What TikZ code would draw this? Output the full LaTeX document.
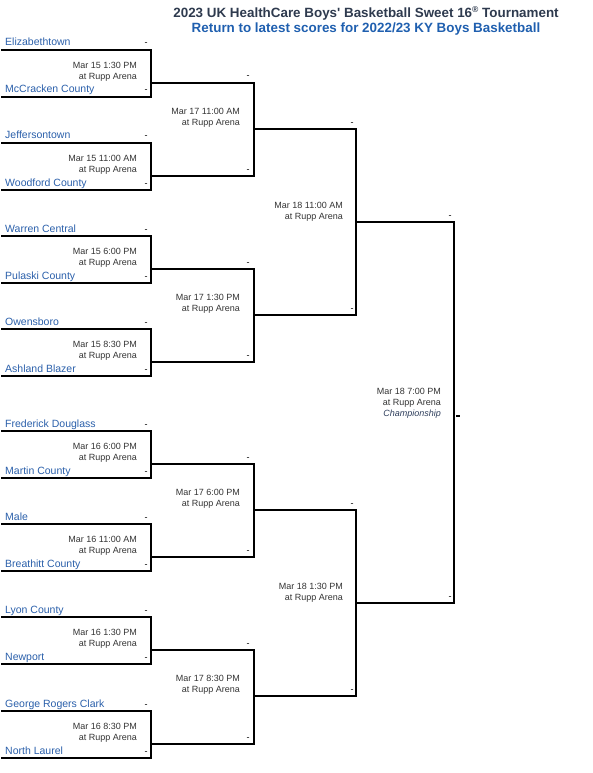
\documentclass[tikz,border=0pt]{standalone}
\usepackage{fontspec}
\setmainfont{Liberation Sans}
\definecolor{teamblue}{HTML}{2A5FAA}
\definecolor{titlegray}{HTML}{2E3A4E}
\definecolor{linkblue}{HTML}{1F5FAF}
\definecolor{timegray}{HTML}{333333}
\definecolor{champblue}{HTML}{2E3E5C}
\begin{document}
\begin{tikzpicture}[x=1pt,y=-1pt,
  bline/.style={line width=2.2pt},
  team/.style={anchor=base west, inner sep=0pt, text=teamblue, font=\fontsize{10.5}{12}\selectfont},
  score/.style={anchor=base, inner sep=0pt, font=\fontsize{9}{11}\selectfont},
  when/.style={anchor=base east, inner sep=0pt, text=timegray, font=\fontsize{9}{11}\selectfont}]
\useasboundingbox (0,0) rectangle (592,773);
% title
\node[anchor=base, inner sep=0pt, text=titlegray, font=\bfseries\fontsize{13.4}{15}\selectfont] (title) at (366,17.5)
  {2023 UK HealthCare Boys\textquotesingle{} Basketball Sweet 16\raisebox{0.35em}{\fontsize{8.5}{9}\selectfont ®} Tournament};
\node[anchor=base, inner sep=0pt, text=linkblue, font=\bfseries\fontsize{13.4}{15}\selectfont] (link) at (366,32.5)
  {Return to latest scores for 2022/23 KY Boys Basketball};
% round 1
\foreach \i/\t/\a/\b/\w in {
  0/50/Elizabethtown/McCracken County/Mar 15 1:30 PM,
  1/143/Jeffersontown/Woodford County/Mar 15 11:00 AM,
  2/236/Warren Central/Pulaski County/Mar 15 6:00 PM,
  3/329/Owensboro/Ashland Blazer/Mar 15 8:30 PM,
  4/431/Frederick Douglass/Martin County/Mar 16 6:00 PM,
  5/524/Male/Breathitt County/Mar 16 11:00 AM,
  6/617/Lyon County/Newport/Mar 16 1:30 PM,
  7/711/George Rogers Clark/North Laurel/Mar 16 8:30 PM}{
  \coordinate (pa\i) at (1,\t);
  \coordinate (pb\i) at (151,\t);
  \coordinate (pc\i) at (151,\t+47);
  \coordinate (pd\i) at (1,\t+47);
  \draw[bline] (pa\i) -- (pb\i) -- (pc\i) -- (pd\i);
  \node[team] (ta\i) at (5,\t-4) {\a};
  \node[team] (tb\i) at (5,\t+43) {\b};
  \node[score] (sa\i) at (146,\t-4) {-};
  \node[score] (sb\i) at (146,\t+43) {-};
  \node[when] (wa\i) at (137,\t+18.5) {\w};
  \node[when] (wb\i) at (137,\t+29.5) {at Rupp Arena};
}
% round 2
\foreach \j/\t/\u/\w in {0/83/176/Mar 17 11:00 AM, 1/269/362/Mar 17 1:30 PM,
  2/464/557/Mar 17 6:00 PM, 3/650/744/Mar 17 8:30 PM}{
  \coordinate (qa\j) at (151,\t);
  \coordinate (qb\j) at (254,\t);
  \coordinate (qc\j) at (254,\u);
  \coordinate (qd\j) at (151,\u);
  \draw[bline] (qa\j) -- (qb\j) -- (qc\j) -- (qd\j);
  \node[score] (ua\j) at (248,\t-4) {-};
  \node[score] (ub\j) at (248,\u-4) {-};
  \node[when] (xa\j) at (240,\t+31.5) {\w};
  \node[when] (xb\j) at (240,\t+42.5) {at Rupp Arena};
}
% round 3
\foreach \k/\t/\u/\w in {0/129/315/Mar 18 11:00 AM, 1/510/696/Mar 18 1:30 PM}{
  \coordinate (ra\k) at (254,\t);
  \coordinate (rb\k) at (356,\t);
  \coordinate (rc\k) at (356,\u);
  \coordinate (rd\k) at (254,\u);
  \draw[bline] (ra\k) -- (rb\k) -- (rc\k) -- (rd\k);
  \node[score] (va\k) at (352,\t-4) {-};
  \node[score] (vb\k) at (352,\u-4) {-};
  \node[when] (ya\k) at (343,\t+79.5) {\w};
  \node[when] (yb\k) at (343,\t+90.5) {at Rupp Arena};
}
% final
\coordinate (fa) at (356,222);
\coordinate (fb) at (454,222);
\coordinate (fc) at (454,603);
\coordinate (fd) at (356,603);
\draw[bline] (fa) -- (fb) -- (fc) -- (fd);
\node[score] (fsa) at (450,218) {-};
\node[score] (fsb) at (450,599) {-};
\node[when] (fw1) at (441,394.5) {Mar 18 7:00 PM};
\node[when] (fw2) at (441,405.5) {at Rupp Arena};
\node[when, text=champblue, font=\itshape\fontsize{9}{11}\selectfont] (fw3) at (441,416.5) {Championship};
\coordinate (fe) at (456,416);
\coordinate (ff) at (460,416);
\draw[line width=1.6pt] (fe) -- (ff);
\end{tikzpicture}
\end{document}
